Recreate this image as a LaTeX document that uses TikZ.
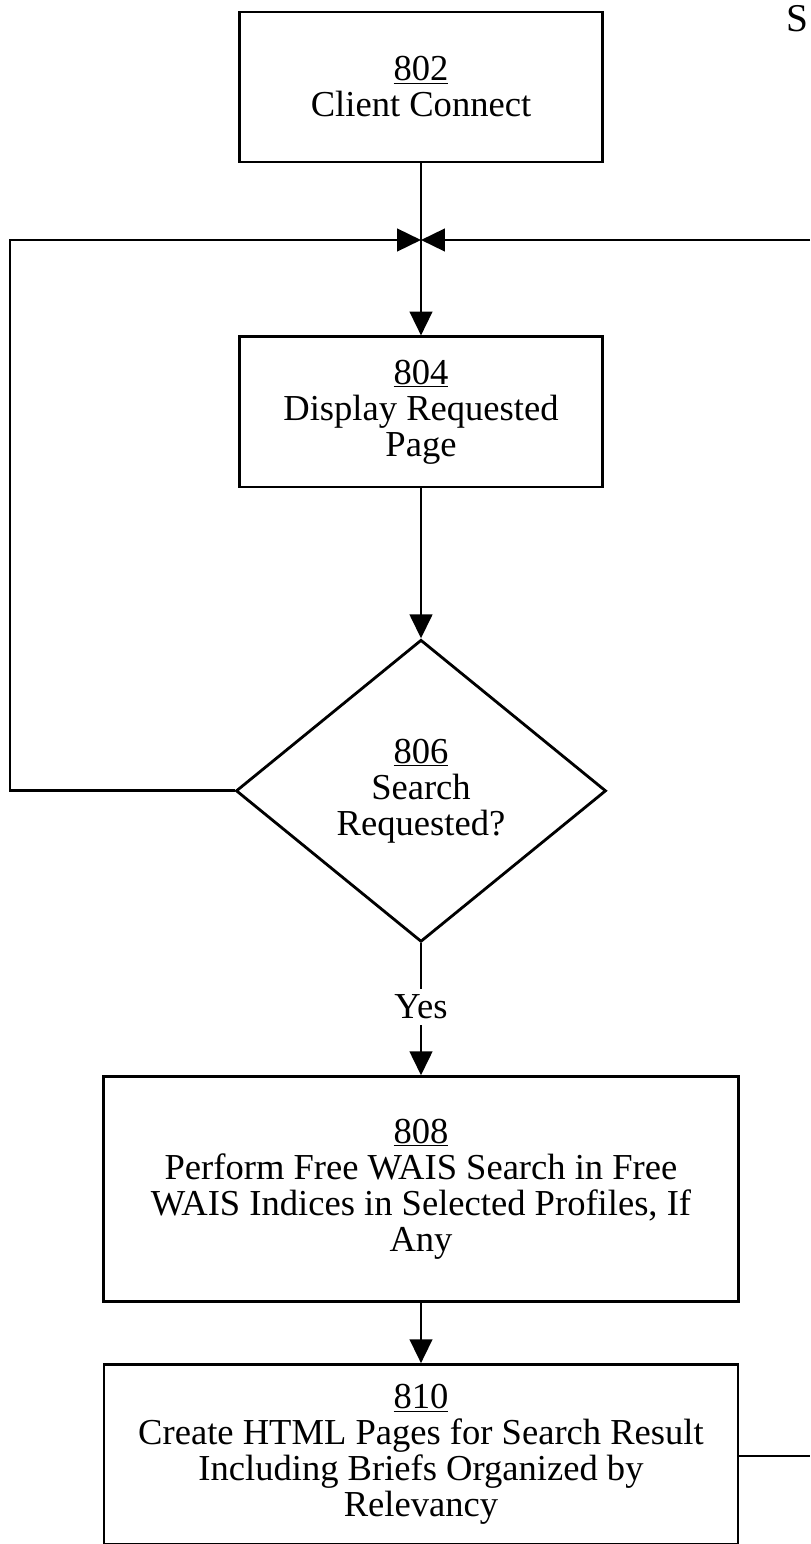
\documentclass[tikz,border=0pt]{standalone}
\usepackage{fontspec}
\setmainfont{Liberation Serif}
\usetikzlibrary{positioning, shapes.geometric, arrows.meta}
\tikzstyle{process} = [rectangle, text centered, align=center, draw=black, line width=2pt, font=\fontsize{26}{25.6}\selectfont]
\tikzstyle{decision} = [diamond, text centered, align=center, draw=black, line width=2pt, inner sep=0pt, minimum width=9.25cm, minimum height=7.55cm, font=\fontsize{26}{25.6}\selectfont]
\tikzstyle{answer} = [text centered, inner sep=4pt, font=\fontsize{26}{25.6}\selectfont]
\tikzstyle{arrow} = [line width=2pt,-{Triangle[length=17pt,width=16pt]}]

\begin{document}
\begin{tikzpicture}[x=0.025cm, y=-0.025cm]
\useasboundingbox (0,0) rectangle (810,1544);
\node (client_connect) [process, minimum width=9.075cm, minimum height=3.75cm] at (421,87) {\underline{802}\\Client Connect};
\node (display_page) [process, minimum width=9.075cm, minimum height=3.75cm, below=4.3cm of client_connect] {\underline{804}\\Display Requested\\Page};
\node (search_req) [decision, below=3.75cm of display_page] {\underline{806}\\Search\\Requested?};
\node (yes_lbl) [answer] at (421,1007) {Yes};
\node (free_wais) [process, minimum width=15.875cm, minimum height=5.625cm, below=3.3cm of search_req] {\underline{808}\\Perform Free WAIS Search in Free\\WAIS Indices in Selected Profiles, If\\Any};
\node (create_html) [process, minimum width=15.85cm, minimum height=4.5cm, below=1.5cm of free_wais] {\underline{810}\\Create HTML Pages for Search Result\\Including Briefs Organized by\\Relevancy};
\node (sheet_mark) [anchor=base east, inner sep=0pt, font=\fontsize{28}{28}\selectfont] at (809,32) {S};
\coordinate (junction) at (421,240);
\coordinate (left_rail) at (10,240);
\coordinate (right_rail) at (810,240);
\coordinate (exit_right) at (810,1456);
\draw [arrow] (client_connect) -- (display_page);
\draw [arrow] (search_req.west) -| (left_rail) -- (junction);
\draw [arrow] (right_rail) -- (junction);
\draw [arrow] (display_page) -- (search_req);
\draw [line width=2pt] (search_req) -- (yes_lbl);
\draw [arrow] (yes_lbl) -- (free_wais);
\draw [arrow] (free_wais) -- (create_html);
\draw [line width=2pt] (create_html.east |- exit_right) -- (exit_right);
\end{tikzpicture}
\end{document}
